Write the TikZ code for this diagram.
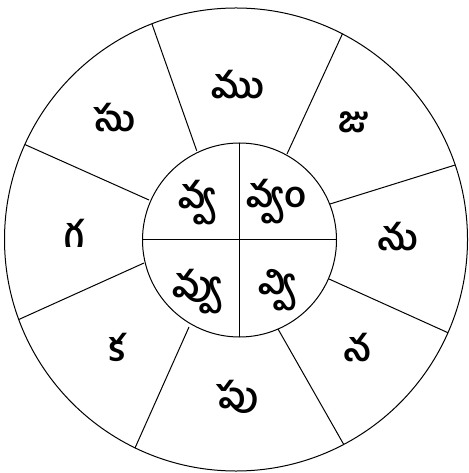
\documentclass[tikz,border=0pt]{standalone}
\usepackage{fontspec}
\newfontfamily\telugu[Script=Telugu]{Hind Guntur}

\tikzset{every picture/.style={line width=0.75pt}}
\tikzset{syl/.style={font=\telugu\bfseries\fontsize{27}{30}\selectfont, inner sep=0pt}}

\begin{document}
\begin{tikzpicture}[x=0.75pt,y=0.75pt,yscale=-1,xscale=1]
        \useasboundingbox (0,0) rectangle (468,473);
        % wheel
        \draw  (236,239.5) circle [radius=231.5] ;
        \draw  (239.5,240) circle [radius=97] ;
        \draw    (239.5,143) -- (239.5,337) ;
        \draw    (142.5,239.5) -- (336.5,239.5) ;
        % spokes
        \draw    (196.7,150.7) -- (151.9,23.8) ;
        \draw    (287,154) -- (342.4,33.9) ;
        \draw    (330,204) -- (455.2,165) ;
        \draw    (329,279) -- (447.9,332.7) ;
        \draw    (278,329) -- (343.7,444.4) ;
        \draw    (189,327) -- (135,448) ;
        \draw    (144,263) -- (18.8,319.5) ;
        \draw    (149,200) -- (24.8,144.5) ;
        % outer syllables
        \node[syl] (mu) at (238,85) {ము};
        \node[syl] (ju) at (354,122) {జు};
        \node[syl] (nu) at (398,237) {ను};
        \node[syl] (na) at (357,348) {న};
        \node[syl] (pu) at (238,397) {పు};
        \node[syl] (ka) at (117,347) {క};
        \node[syl] (ga) at (74,233) {గ};
        \node[syl] (su) at (115,118) {సు};
        % inner syllables
        \node[syl] (vva) at (198,203) {వ్వ};
        \node[syl] (vvam) at (277,202) {వ్వం};
        \node[syl] (vvu) at (198,292) {వ్వు};
        \node[syl] (vvi) at (278,290) {వ్వి};
    \end{tikzpicture}
\end{document}
